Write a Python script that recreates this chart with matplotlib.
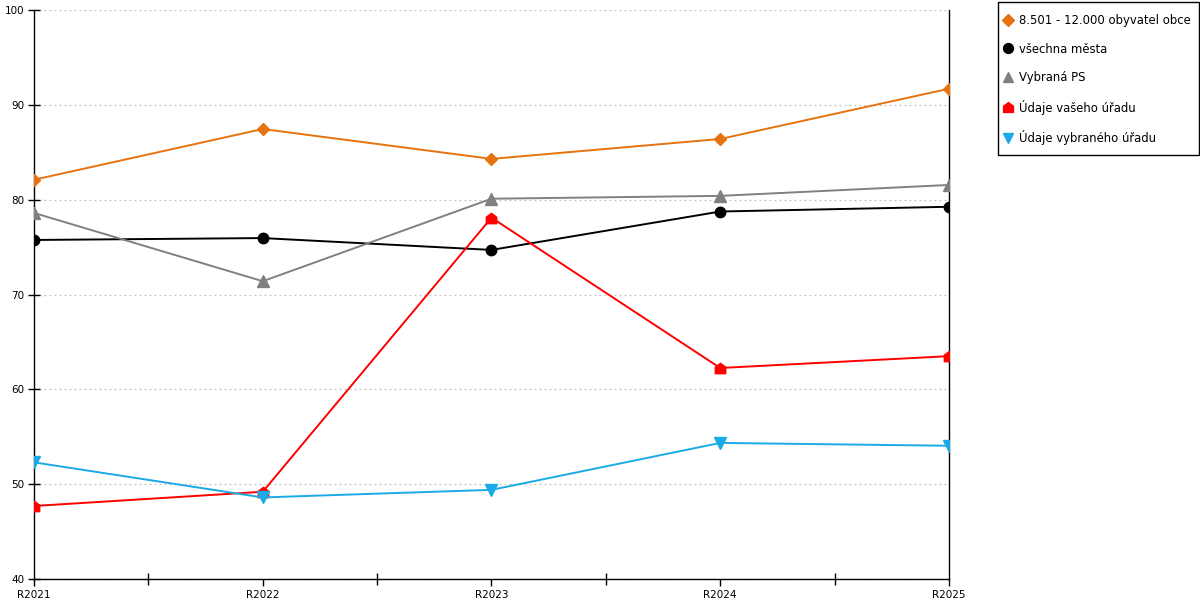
import matplotlib
matplotlib.use('Agg')
import matplotlib.pyplot as plt
from matplotlib.path import Path
from matplotlib.lines import Line2D
from matplotlib.patches import Rectangle
from matplotlib.ticker import MultipleLocator, FixedLocator

plt.rcParams['font.family'] = ['DejaVu Sans']

years = ['R2021', 'R2022', 'R2023', 'R2024', 'R2025']
obyvatel = [82.1, 87.45, 84.3, 86.4, 91.7]
mesta = [75.75, 75.95, 74.7, 78.75, 79.25]
vybrana_ps = [78.6, 71.4, 80.1, 80.4, 81.55]
vas_urad = [47.7, 49.2, 78.1, 62.25, 63.5]
vybrany_urad = [52.3, 48.6, 49.4, 54.35, 54.05]

# house shaped marker for "Údaje vašeho úřadu"
house = Path([(-1, -1), (1, -1), (1, 0.25), (0, 1), (-1, 0.25), (-1, -1)],
             [Path.MOVETO, Path.LINETO, Path.LINETO, Path.LINETO, Path.LINETO, Path.CLOSEPOLY])

series = [
    ('8.501 - 12.000 obyvatel obce', obyvatel, '#E6730F', 'D', 6.5),
    ('všechna města', mesta, '#000000', 'o', 7.5),
    ('Vybraná PS', vybrana_ps, '#808080', '^', 8),
    ('Údaje vašeho úřadu', vas_urad, '#FF0000', house, 7.5),
    ('Údaje vybraného úřadu', vybrany_urad, '#1AAAE6', 'v', 8),
]

fig = plt.figure(figsize=(12, 6), dpi=100)
ax = fig.add_axes([34 / 1200, 21 / 600, 915 / 1200, 569 / 600])

x = list(range(len(years)))
handles = []
for label, vals, color, marker, ms in series:
    ax.plot(x, vals, color=color, lw=1.4, marker=marker, ms=ms, mec=color, mfc=color, zorder=3)
    handles.append(Line2D([], [], ls='none', marker=marker, ms=ms * 0.95, color=color, label=label))

ax.set_xlim(0, len(years) - 1)
ax.set_ylim(40, 100)
ax.yaxis.set_major_locator(MultipleLocator(10))
ax.set_xticks(x)
ax.set_xticklabels(years)
ax.xaxis.set_minor_locator(FixedLocator([i + 0.5 for i in x[:-1]]))

ax.grid(axis='y', color='#c0c0c0', ls=(0, (1.5, 2.5)), lw=0.9)
ax.set_axisbelow(True)
ax.spines['top'].set_visible(False)
for s in ['left', 'right', 'bottom']:
    ax.spines[s].set_linewidth(1.0)

ax.tick_params(axis='x', which='major', direction='out', length=5, width=1, labelsize=7.5, pad=3)
ax.tick_params(axis='x', which='minor', direction='inout', length=8, width=1)
ax.tick_params(axis='y', direction='inout', length=8, width=1, labelsize=7.5, pad=3)

# legend box drawn by hand so it fits the right edge
fig.patches.append(Rectangle((998 / 1200, 1 - 155 / 600), 201 / 1200, 153 / 600,
                             transform=fig.transFigure, fill=False, ec='black', lw=1.0))
fig.legend(handles=handles, loc='upper left', bbox_to_anchor=(1003 / 1200, 1 - 14 / 600),
           fontsize=8.4, frameon=False, handlelength=0.8, handletextpad=0.55,
           labelspacing=1.33, borderpad=0, borderaxespad=0)

fig.savefig('out.png', dpi=100)
